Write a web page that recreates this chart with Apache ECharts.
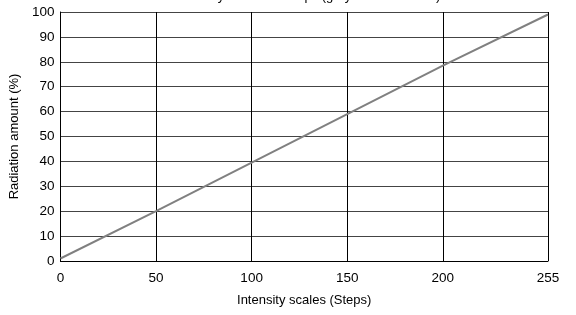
<!DOCTYPE html>
<html>
<head>
<meta charset="utf-8">
<script src="https://cdn.jsdelivr.net/npm/echarts@6/dist/echarts.min.js"></script>
<style>
html,body{margin:0;padding:0;background:#fff;}
#chart{width:576px;height:315px;}
</style>
</head>
<body>
<div id="chart"></div>
<script>
// intensity steps and radiation amount (%)
var steps = [0, 50, 100, 150, 200, 255];
var radiation = [1, 20, 39.5, 59, 78.5, 99];
var xTicks = [0, 50, 100, 150, 200, 255];

var myChart = echarts.init(document.getElementById('chart'));
var option = {
    animation: false,
    // title is cut off at the top of the picture
    title: {
        text: 'Intensity and scale steps (gray scale 0 to 255)',
        left: 303,
        textAlign: 'center',
        top: -15,
        textStyle: {fontFamily: 'Liberation Sans', fontSize: 13, fontWeight: 'normal', color: '#000'}
    },
    grid: {left: 58, right: 28, top: 12, bottom: 54},
    xAxis: {
        type: 'value',
        min: 0,
        max: 255,
        name: 'Intensity scales (Steps)',
        nameLocation: 'middle',
        nameGap: 33,
        nameTextStyle: {fontFamily: 'Liberation Sans', fontSize: 13, color: '#000'},
        axisLine: {lineStyle: {color: '#000', width: 1}},
        axisTick: {show: false, customValues: xTicks},
        axisLabel: {customValues: xTicks, fontFamily: 'Liberation Sans', fontSize: 13.5, color: '#000', margin: 10},
        splitLine: {show: true, customValues: xTicks, lineStyle: {color: '#000', width: 1}}
    },
    yAxis: {
        type: 'value',
        min: 0,
        max: 100,
        interval: 10,
        name: 'Radiation amount (%)',
        nameLocation: 'middle',
        nameGap: 33,
        nameTextStyle: {fontFamily: 'Liberation Sans', fontSize: 13, color: '#000'},
        axisLine: {show: true, lineStyle: {color: '#000', width: 1}},
        axisTick: {show: false},
        axisLabel: {fontFamily: 'Liberation Sans', fontSize: 13.5, color: '#000', margin: 6},
        splitLine: {show: true, lineStyle: {color: '#444', width: 1}}
    },
    series: [{
        type: 'line',
        data: steps.map(function (s, i) { return [s, radiation[i]]; }),
        showSymbol: false,
        lineStyle: {color: '#808080', width: 2},
        itemStyle: {color: '#808080'}
    }]
};
myChart.setOption(option);
</script>
</body>
</html>
